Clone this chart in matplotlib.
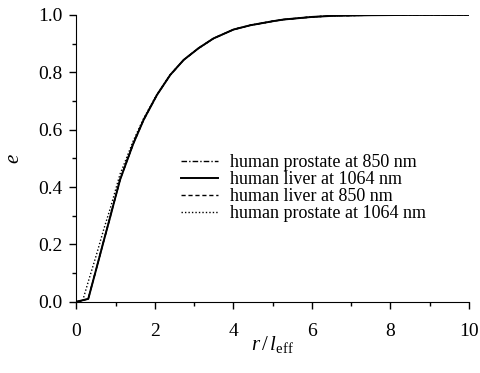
import matplotlib
matplotlib.use("Agg")
import matplotlib.pyplot as plt
from matplotlib.ticker import MultipleLocator

plt.rcParams['font.family'] = ['Liberation Serif', 'DejaVu Serif']
plt.rcParams['mathtext.fontset'] = 'custom'
plt.rcParams['mathtext.rm'] = 'Liberation Serif'
plt.rcParams['mathtext.it'] = 'Liberation Serif:italic'

# data
r = [0, 0.3, 0.5, 0.7, 0.86, 0.985, 1.11, 1.2, 1.45, 1.71, 2.05, 2.39, 2.73,
     3.11, 3.49, 4.0, 4.43, 5.0, 5.28, 6.0, 6.55, 7.5, 8.5, 10.0]
liver_1064 = [0, 0.01, 0.112, 0.215, 0.296, 0.361, 0.425, 0.459, 0.552, 0.634,
              0.721, 0.791, 0.843, 0.884, 0.918, 0.949, 0.964, 0.978, 0.984,
              0.993, 0.997, 0.999, 1.0, 1.0]
prostate_850 = [0, 0.01, 0.113, 0.216, 0.297, 0.362, 0.426, 0.46, 0.553, 0.635,
                0.721, 0.791, 0.843, 0.884, 0.918, 0.949, 0.964, 0.978, 0.984,
                0.993, 0.997, 0.999, 1.0, 1.0]
liver_850 = [0, 0.01, 0.112, 0.215, 0.296, 0.361, 0.425, 0.459, 0.552, 0.634,
             0.721, 0.791, 0.843, 0.884, 0.918, 0.949, 0.964, 0.978, 0.984,
             0.993, 0.997, 0.999, 1.0, 1.0]
r_p1064 = [0, 0.15, 0.3, 0.5, 0.7, 0.86, 0.985, 1.11, 1.2, 1.45, 1.71, 2.05,
           2.39, 2.73, 3.11, 3.49, 4.0, 4.43, 5.0, 5.28, 6.0, 6.55, 7.5, 8.5, 10.0]
prostate_1064 = [0, 0.0, 0.07, 0.16, 0.255, 0.325, 0.385, 0.445, 0.475, 0.562,
                 0.639, 0.723, 0.792, 0.843, 0.884, 0.918, 0.949, 0.964, 0.978,
                 0.984, 0.993, 0.997, 0.999, 1.0, 1.0]

labels = ['human prostate at 850 nm', 'human liver at 1064 nm',
          'human liver at 850 nm', 'human prostate at 1064 nm']
xticks = [0, 2, 4, 6, 8, 10]
yticks = [0.0, 0.2, 0.4, 0.6, 0.8, 1.0]

fig = plt.figure(figsize=(4.81, 3.73), dpi=100)
ax = fig.add_axes([0.159, 0.191, 0.816, 0.769])

ax.plot(r, prostate_850, color='black', lw=1.0, ls=(0, (4, 1.5, 1, 1.5)), label=labels[0])
ax.plot(r, liver_1064, color='black', lw=1.4, ls='-', label=labels[1])
ax.plot(r, liver_850, color='black', lw=1.0, ls=(0, (3, 2)), label=labels[2])
ax.plot(r_p1064, prostate_1064, color='black', lw=1.0, ls=(0, (1, 1.5)), label=labels[3])

ax.set_xlim(0, 10)
ax.set_ylim(0, 1.0)
ax.set_xticks(xticks)
ax.set_xticklabels([str(v) for v in xticks])
ax.set_yticks(yticks)
ax.set_yticklabels(['%.1f' % v for v in yticks])
ax.xaxis.set_minor_locator(MultipleLocator(1))
ax.yaxis.set_minor_locator(MultipleLocator(0.1))
for s in ['top', 'right']:
    ax.spines[s].set_visible(False)
ax.tick_params(which='major', direction='out', length=5, width=1, labelsize=14)
ax.tick_params(axis='x', which='major', pad=10)
ax.tick_params(axis='y', which='major', pad=5)
ax.tick_params(which='minor', direction='out', length=3, width=1)

ax.set_xlabel(r'$\mathit{r}\,/\,\mathit{l}_{\rm eff}$', fontsize=15, labelpad=-4)
ax.set_ylabel(r'$\mathit{e}$', fontsize=15, labelpad=10)

leg = ax.legend(loc='center left', bbox_to_anchor=(0.235, 0.395), frameon=False,
                fontsize=13, handlelength=2.05, handletextpad=0.65,
                labelspacing=0.0, borderpad=0.2)

fig.savefig('out.png', dpi=100)
